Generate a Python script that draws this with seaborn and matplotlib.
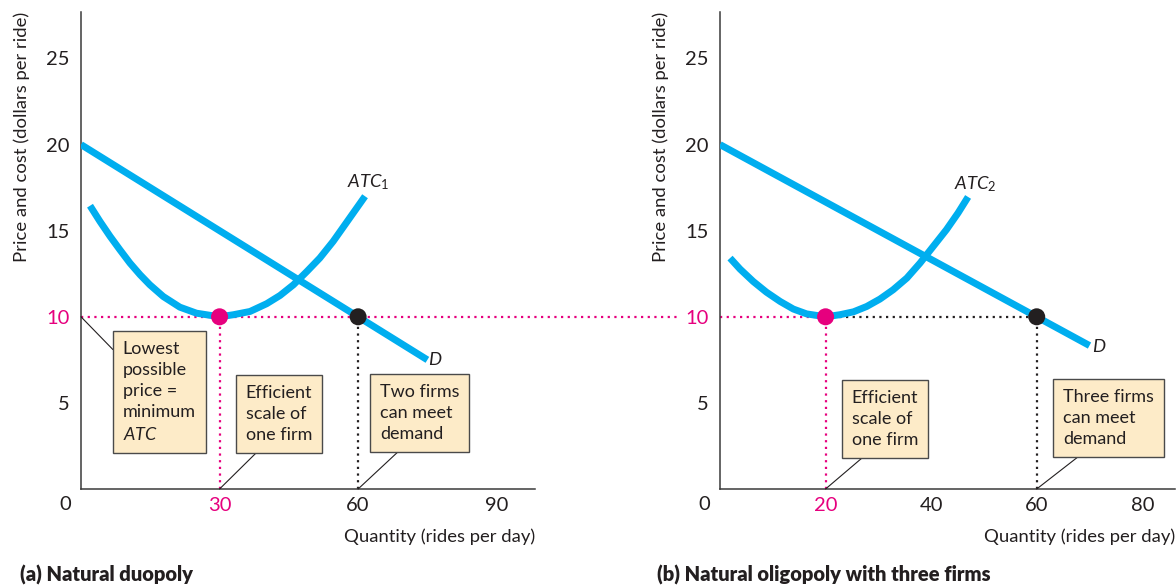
import pandas as pd
import matplotlib.pyplot as plt
import seaborn as sns

# (a) natural duopoly
qa_demand = [0, 75]
pa_demand = [20, 7.5]
qa_atc = [1.95, 4.1, 6.3, 8.4, 10.6, 12.8, 14.9, 17.8, 21.4, 25.0, 30.0, 33.0,
          36.6, 40.2, 43.1, 46.0, 48.9, 51.7, 54.6, 57.5, 61.5]
pa_atc = [16.45, 15.54, 14.67, 13.9, 13.12, 12.44, 11.86, 11.18, 10.56, 10.21, 10.0, 10.12,
          10.31, 10.76, 11.24, 11.86, 12.63, 13.41, 14.38, 15.48, 17.0]
qa_eff, qa_meet, price_min = 30, 60, 10

# (b) natural oligopoly with three firms
qb_demand = [0, 70]
pb_demand = [20, 8.33]
qb_atc = [1.9, 3.8, 6.3, 8.8, 11.4, 13.9, 16.4, 20.0, 22.7, 25.3, 27.8, 30.3,
          32.8, 35.4, 37.9, 40.4, 42.9, 45.1, 47.0]
pb_atc = [13.41, 12.77, 12.05, 11.43, 10.89, 10.45, 10.17, 10.0, 10.12, 10.29, 10.6, 11.03,
          11.57, 12.25, 13.12, 14.09, 15.06, 16.03, 16.96]
qb_eff, qb_meet = 20, 60

yticks = [5, 10, 15, 20, 25]
xticks_a = [30, 60, 90]
xticks_b = [20, 40, 60, 80]

blue = '#00AEEF'
pink = '#E6007E'
dark = '#231F20'
boxface = '#FDEBC8'

sns.set_theme(style='white')
plt.rcParams['font.family'] = ['Lato', 'DejaVu Sans']
plt.rcParams['mathtext.fontset'] = 'custom'
plt.rcParams['mathtext.rm'] = 'Lato'
plt.rcParams['mathtext.it'] = 'Lato:italic'
plt.rcParams['text.color'] = dark
plt.rcParams['axes.labelcolor'] = dark

fig = plt.figure(figsize=(11.76, 5.86), dpi=100)
ax1 = fig.add_axes([81/1176, 97/586, 454/1176, 477/586])
ax2 = fig.add_axes([720/1176, 97/586, 455/1176, 477/586])

fs = 13        # box text
fs_tick = 14.5
fs_lab = 13.3
dot = (0, (1, 2))


def style_axes(ax, xmax, xticks, pink_x):
    ax.set_xlim(0, xmax)
    ax.set_ylim(0, 27.7)
    for s in ['top', 'right']:
        ax.spines[s].set_visible(False)
    for s in ['left', 'bottom']:
        ax.spines[s].set_color('#3a3a3a')
        ax.spines[s].set_linewidth(1.1)
    ax.set_yticks(yticks)
    ax.set_yticklabels([str(v) for v in yticks])
    ax.set_xticks(xticks)
    ax.set_xticklabels([str(v) for v in xticks])
    ax.tick_params(direction='in', length=6, width=1, labelsize=fs_tick, pad=6, colors=dark)
    ax.tick_params(axis='y', pad=8)
    for t in ax.get_yticklabels():
        if t.get_text() == '10':
            t.set_color(pink)
    for t in ax.get_xticklabels():
        if t.get_text() == str(pink_x):
            t.set_color(pink)
    ax.set_xlabel('Quantity (rides per day)', loc='right', fontsize=fs_lab, labelpad=10)
    ax.set_ylabel('Price and cost (dollars per ride)', loc='top', fontsize=fs_lab, labelpad=12)
    ax.annotate('0', xy=(0, 0), xytext=(-16, -16), textcoords='offset pixels',
                ha='center', va='center', fontsize=fs_tick, color=dark)


def note(ax, left, bottom, text, anchor, tip):
    pad = 0.55 * fs * 100 / 72
    ax.annotate(text, xy=(left, bottom), xytext=(pad, pad), textcoords='offset pixels',
                ha='left', va='bottom', fontsize=fs, linespacing=1.4, zorder=6,
                bbox=dict(boxstyle='square,pad=0.55', fc=boxface, ec='#4a4a4a', lw=1))
    ax.plot([tip[0], anchor[0]], [tip[1], anchor[1]], color=dark, lw=0.8,
            clip_on=False, zorder=5)


# ---- panel (a)
style_axes(ax1, 98.3, xticks_a, qa_eff)
ax1.plot([0, 129.7], [price_min, price_min], color=pink, lw=1.6, ls=dot, clip_on=False, zorder=1)
ax1.plot([qa_eff, qa_eff], [0, price_min], color=pink, lw=1.6, ls=dot, zorder=1)
ax1.plot([qa_meet, qa_meet], [0, price_min], color=dark, lw=1.6, ls=dot, zorder=1)
sns.lineplot(x=qa_demand, y=pa_demand, ax=ax1, color=blue, lw=5, solid_capstyle='butt', zorder=3)
sns.lineplot(x=qa_atc, y=pa_atc, ax=ax1, color=blue, lw=5, solid_capstyle='butt', zorder=3)
sns.scatterplot(x=[qa_eff], y=[price_min], ax=ax1, s=150, color=pink, edgecolor='none', zorder=4)
sns.scatterplot(x=[qa_meet], y=[price_min], ax=ax1, s=150, color=dark, edgecolor='none', zorder=4)
ax1.text(62.1, 17.8, r'$\mathit{ATC}_1$', ha='center', va='center', fontsize=fs_lab)
ax1.text(76.8, 7.5, r'$\mathit{D}$', ha='center', va='center', fontsize=fs_lab)
note(ax1, 6.9, 2.09, 'Lowest\npossible\nprice =\nminimum\n$\\mathit{ATC}$', (6.9, 8.1), (0, 10))
note(ax1, 33.5, 2.09, 'Efficient\nscale of\none firm', (37.9, 2.09), (qa_eff, 0))
note(ax1, 62.6, 2.15, 'Two firms\ncan meet\ndemand', (68.6, 2.15), (qa_meet, 0))

# ---- panel (b)
style_axes(ax2, 86.2, xticks_b, qb_eff)
ax2.plot([0, qb_eff], [price_min, price_min], color=pink, lw=1.6, ls=dot, zorder=1)
ax2.plot([qb_eff, qb_meet], [price_min, price_min], color=dark, lw=1.6, ls=dot, zorder=1)
ax2.plot([qb_eff, qb_eff], [0, price_min], color=pink, lw=1.6, ls=dot, zorder=1)
ax2.plot([qb_meet, qb_meet], [0, price_min], color=dark, lw=1.6, ls=dot, zorder=1)
sns.lineplot(x=qb_demand, y=pb_demand, ax=ax2, color=blue, lw=5, solid_capstyle='butt', zorder=3)
sns.lineplot(x=qb_atc, y=pb_atc, ax=ax2, color=blue, lw=5, solid_capstyle='butt', zorder=3)
sns.scatterplot(x=[qb_eff], y=[price_min], ax=ax2, s=150, color=pink, edgecolor='none', zorder=4)
sns.scatterplot(x=[qb_meet], y=[price_min], ax=ax2, s=150, color=dark, edgecolor='none', zorder=4)
ax2.text(48.3, 17.7, r'$\mathit{ATC}_2$', ha='center', va='center', fontsize=fs_lab)
ax2.text(71.9, 8.3, r'$\mathit{D}$', ha='center', va='center', fontsize=fs_lab)
note(ax2, 23.1, 1.8, 'Efficient\nscale of\none firm', (26.9, 1.8), (qb_eff, 0))
note(ax2, 63.1, 1.86, 'Three firms\ncan meet\ndemand', (67.8, 1.86), (qb_meet, 0))

fig.text(20/1176, 11/586, '(a) Natural duopoly', fontsize=14.5, fontweight='heavy', va='center')
fig.text(657/1176, 11/586, '(b) Natural oligopoly with three firms', fontsize=14.5,
         fontweight='heavy', va='center')

fig.savefig('out.png', dpi=100)
